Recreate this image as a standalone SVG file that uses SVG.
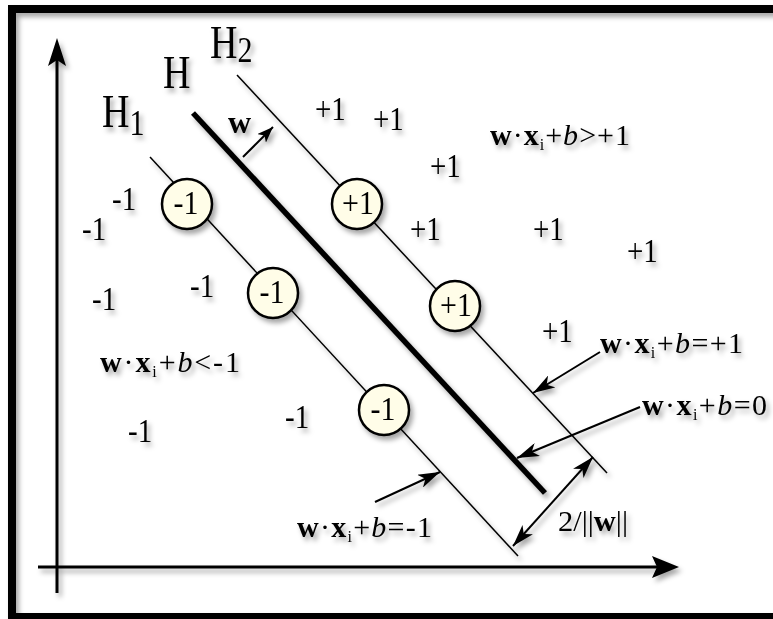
<svg xmlns="http://www.w3.org/2000/svg" width="773" height="619" viewBox="0 0 773 619">
<defs>
<filter id="sh" x="-5%" y="-5%" width="115%" height="115%">
<feDropShadow dx="3" dy="4" stdDeviation="2.5" flood-color="#000" flood-opacity="0.35"/>
</filter>
<marker id="ah" viewBox="0 0 22 14" refX="22" refY="7" markerWidth="22" markerHeight="14" markerUnits="userSpaceOnUse" orient="auto-start-reverse">
<path d="M0,0 L22,7 L0,14 L6,7 Z" fill="#000"/>
</marker>
<marker id="ahs" viewBox="0 0 16 12" refX="16" refY="6" markerWidth="16" markerHeight="12" markerUnits="userSpaceOnUse" orient="auto">
<path d="M0,0 L16,6 L0,12 L4,6 Z" fill="#000"/>
</marker>
<style>
text{font-family:"Liberation Serif","Times New Roman",serif;fill:#000}
.lbl{font-size:29px}
.hl{font-size:38px}
.eq{font-size:30px}
.b{font-weight:bold}
.it{font-style:italic}
.thin{stroke:#000;stroke-width:1.5;fill:none}
.lead{stroke:#000;stroke-width:2;fill:none}
.node circle{fill:#fffde8;stroke:#000;stroke-width:2.5}
.node text{font-size:30px;text-anchor:middle}
</style>
</defs>
<rect width="773" height="619" fill="#fff"/>
<g filter="url(#sh)">
<rect x="12" y="9" width="800" height="608" fill="none" stroke="#000" stroke-width="8"/>
<g id="axes">
<line x1="57" y1="55" x2="57" y2="593" stroke="#000" stroke-width="3"/>
<polygon points="57,38 66,66 57,60 48,66" fill="#000"/>
<line x1="38" y1="567" x2="662" y2="567" stroke="#000" stroke-width="3"/>
<polygon points="679,567 652,556 657,567 652,578" fill="#000"/>
</g>
<g id="connectors">
<line class="thin" x1="150" y1="157" x2="518" y2="556"/>
<line class="thin" x1="237" y1="75" x2="607" y2="473"/>
<line x1="193" y1="113" x2="545" y2="493" stroke="#000" stroke-width="5.5"/>
<line class="lead" x1="243" y1="157" x2="273" y2="127" marker-end="url(#ahs)"/>
<line class="lead" x1="600" y1="352" x2="533" y2="393" marker-end="url(#ah)"/>
<line class="lead" x1="640" y1="407" x2="517" y2="458" marker-end="url(#ah)"/>
<line class="lead" x1="375" y1="502" x2="440" y2="472" marker-end="url(#ah)"/>
<line class="lead" x1="513" y1="546" x2="593" y2="457" marker-start="url(#ah)" marker-end="url(#ah)"/>
</g>
<g id="node-n1" class="node"><circle cx="187" cy="204" r="25"/><text transform="translate(186,214) scale(1,1.12)">-1</text></g>
<g id="node-n2" class="node"><circle cx="273" cy="293" r="25"/><text transform="translate(272,303) scale(1,1.12)">-1</text></g>
<g id="node-n3" class="node"><circle cx="384" cy="410" r="25"/><text transform="translate(383,420) scale(1,1.12)">-1</text></g>
<g id="node-p1" class="node"><circle cx="357" cy="204" r="25"/><text transform="translate(358,214) scale(1,1.12)">+1</text></g>
<g id="node-p2" class="node"><circle cx="455" cy="306" r="25"/><text transform="translate(456,316) scale(1,1.12)">+1</text></g>
<g id="labels">
<text class="hl" transform="translate(163,88) scale(1,1.2)">H</text>
<text class="hl" transform="translate(210,58) scale(1,1.2)">H<tspan font-size="30" dy="3.5">2</tspan></text>
<text class="hl" transform="translate(102,127) scale(1,1.2)">H<tspan font-size="30" dy="6.5">1</tspan></text>
<text class="b" x="228" y="133" font-size="32">w</text>
<text class="lbl" transform="translate(315,120) scale(1,1.15)">+1</text>
<text class="lbl" transform="translate(373,130) scale(1,1.15)">+1</text>
<text class="lbl" transform="translate(430,177) scale(1,1.15)">+1</text>
<text class="lbl" transform="translate(410,240) scale(1,1.15)">+1</text>
<text class="lbl" transform="translate(533,240) scale(1,1.15)">+1</text>
<text class="lbl" transform="translate(627,262) scale(1,1.15)">+1</text>
<text class="lbl" transform="translate(542,342) scale(1,1.15)">+1</text>
<text class="lbl" transform="translate(112,210) scale(1,1.15)">-1</text>
<text class="lbl" transform="translate(82,240) scale(1,1.15)">-1</text>
<text class="lbl" transform="translate(92,310) scale(1,1.15)">-1</text>
<text class="lbl" transform="translate(190,297) scale(1,1.15)">-1</text>
<text class="lbl" transform="translate(128,442) scale(1,1.15)">-1</text>
<text class="lbl" transform="translate(285,428) scale(1,1.15)">-1</text>
<text class="eq" x="490" y="145" textLength="140" lengthAdjust="spacing"><tspan class="b">w</tspan>·<tspan class="b">x</tspan><tspan font-size="16" dy="5">i</tspan><tspan dy="-5">+</tspan><tspan class="it">b</tspan>&gt;+1</text>
<text class="eq" x="100" y="372" textLength="140" lengthAdjust="spacing"><tspan class="b">w</tspan>·<tspan class="b">x</tspan><tspan font-size="16" dy="5">i</tspan><tspan dy="-5">+</tspan><tspan class="it">b</tspan>&lt;-1</text>
<text class="eq" x="600" y="353" textLength="143" lengthAdjust="spacing"><tspan class="b">w</tspan>·<tspan class="b">x</tspan><tspan font-size="16" dy="5">i</tspan><tspan dy="-5">+</tspan><tspan class="it">b</tspan>=+1</text>
<text class="eq" x="642" y="415" textLength="125" lengthAdjust="spacing"><tspan class="b">w</tspan>·<tspan class="b">x</tspan><tspan font-size="16" dy="5">i</tspan><tspan dy="-5">+</tspan><tspan class="it">b</tspan>=0</text>
<text class="eq" x="297" y="537" textLength="135" lengthAdjust="spacing"><tspan class="b">w</tspan>·<tspan class="b">x</tspan><tspan font-size="16" dy="5">i</tspan><tspan dy="-5">+</tspan><tspan class="it">b</tspan>=-1</text>
<text class="eq" x="558" y="531" textLength="70" lengthAdjust="spacingAndGlyphs">2/||<tspan class="b">w</tspan>||</text>
</g>
</g>
</svg>
